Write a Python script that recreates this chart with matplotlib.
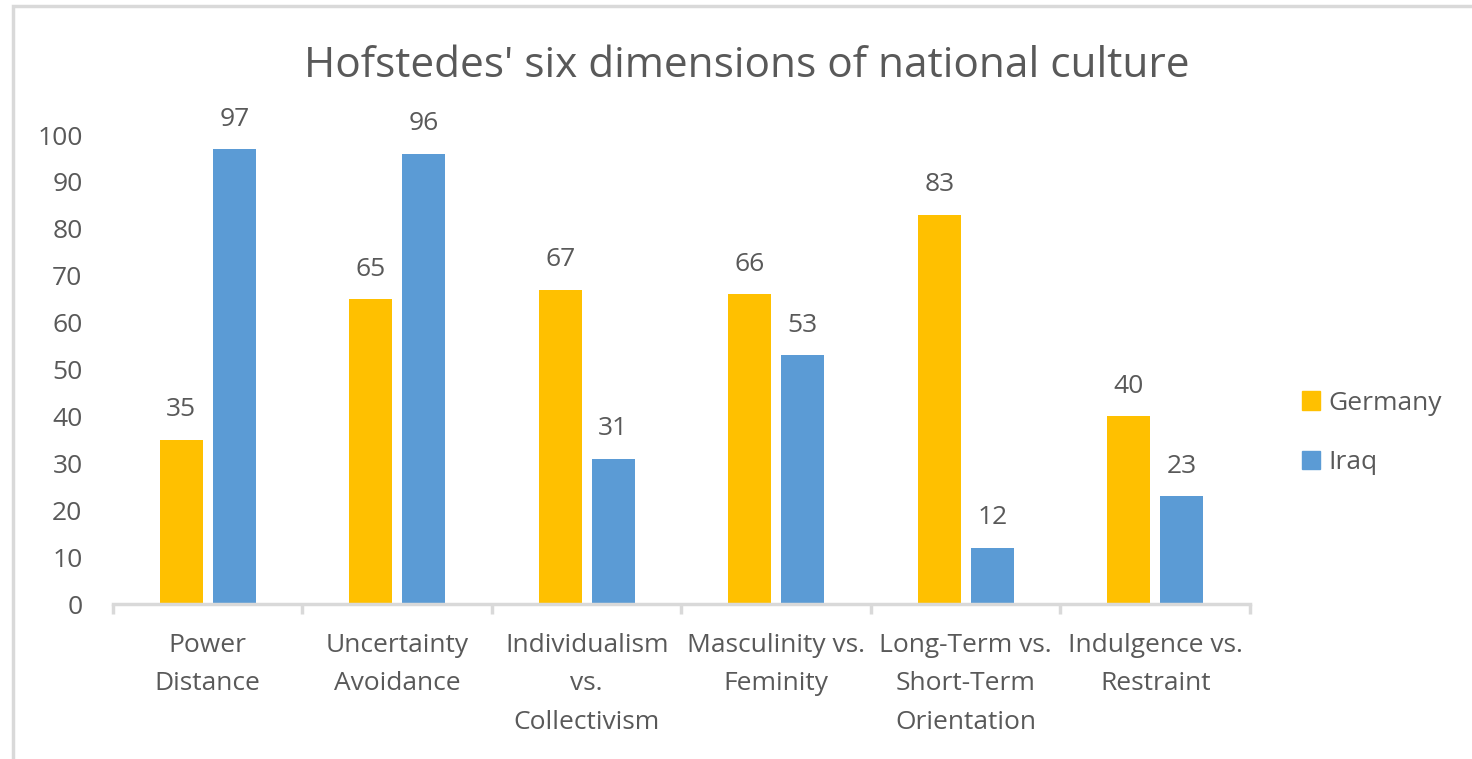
import matplotlib.pyplot as plt
from matplotlib.patches import Rectangle, Patch
import numpy as np

plt.rcParams['font.family'] = ['Open Sans', 'DejaVu Sans']

# data
categories = ["Power\nDistance", "Uncertainty\nAvoidance", "Individualism\nvs.\nCollectivism",
              "Masculinity vs.\nFeminity", "Long-Term vs.\nShort-Term\nOrientation",
              "Indulgence vs.\nRestraint"]
germany = [35, 65, 67, 66, 83, 40]
iraq = [97, 96, 31, 53, 12, 23]

W, H = 1472, 759
txt = '#595959'
grid_c = '#D9D9D9'
c_de = '#FFC000'
c_iq = '#5B9BD5'
fs = 19

fig = plt.figure(figsize=(W / 100, H / 100), dpi=100)
# outer chart-area border
fig.patches.append(Rectangle((13 / W, -0.1), 1.2, 1 - 6 / H + 0.1, transform=fig.transFigure,
                             fill=False, edgecolor='#D9D9D9', linewidth=2.5))

ax = fig.add_axes([113 / W, 1 - 604 / H, (1250 - 113) / W, (604 - 135) / H])
x = np.arange(len(categories))
bw = 0.227
off = 0.14
b1 = ax.bar(x - off, germany, bw, color=c_de, label='Germany')
b2 = ax.bar(x + off, iraq, bw, color=c_iq, label='Iraq')
for b in (b1, b2):
    ax.bar_label(b, padding=12.5, fontsize=fs, color=txt)

ax.set_xlim(-0.5, 5.5)
ax.set_ylim(0, 100)
ax.set_yticks(range(0, 101, 10))
ax.tick_params(axis='y', length=0, pad=22, labelsize=fs, labelcolor=txt)
ax.set_xticks(x)
ax.set_xticklabels(categories, fontsize=fs, color=txt, linespacing=1.7)
ax.tick_params(axis='x', which='major', length=0, pad=21)
ax.set_xticks(np.arange(-0.5, 6, 1), minor=True)
ax.tick_params(axis='x', which='minor', length=7, width=2.5, color=grid_c, direction='out')
for s in ['top', 'right', 'left']:
    ax.spines[s].set_visible(False)
ax.spines['bottom'].set_color(grid_c)
ax.spines['bottom'].set_linewidth(2.5)

fig.text(747 / W, 1 - 77 / H, "Hofstedes' six dimensions of national culture",
         ha='center', va='baseline', fontsize=30.5, color=txt)

handles = [Patch(color=c_de), Patch(color=c_iq)]
fig.legend(handles, ['Germany', 'Iraq'], loc='upper left',
           bbox_to_anchor=(1278 / W, 1 - 367 / H), frameon=False, fontsize=fs,
           labelcolor=txt, handlelength=0.7, handleheight=0.7, handletextpad=0.3,
           labelspacing=1.3)

fig.savefig('out.png', dpi=100)
